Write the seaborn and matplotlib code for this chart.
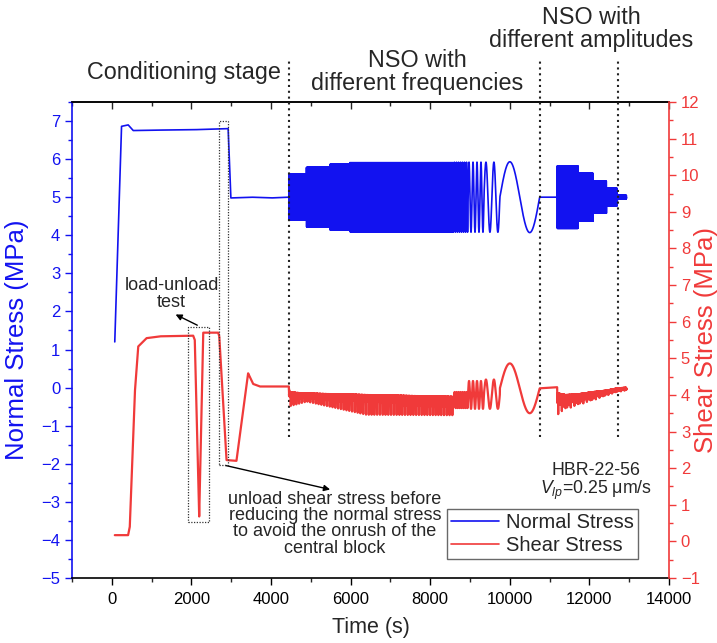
import numpy as np
import pandas as pd
import matplotlib
matplotlib.use("Agg")
import matplotlib.pyplot as plt
import seaborn as sns
from matplotlib.patches import Rectangle
from matplotlib.ticker import MultipleLocator

# ---------------- data ----------------
# Normal stress trend (MPa) outside the oscillation segments
normal_t = [75, 243, 410, 536, 1000, 2000, 2923, 2990, 3500, 4000, 4450, 12930]
normal_v = [1.2, 6.86, 6.90, 6.75, 6.76, 6.77, 6.80, 4.98, 5.00, 4.98, 5.00, 5.00]

# Normal stress oscillation segments (start, end, period, half-amplitude)
nso_start  = [4450, 4890, 5480, 5980, 8600, 8950, 9350, 9750, 11190, 11716, 12093, 12430, 12700]
nso_end    = [4890, 5480, 5980, 8600, 8950, 9350, 9750, 10750, 11716, 12093, 12430, 12700, 12930]
nso_period = [6, 7, 8, 9, 50, 100, 200, 1000, 8, 8, 8, 8, 8]
nso_amp    = [0.69, 0.80, 0.86, 0.92, 0.92, 0.92, 0.92, 0.93, 0.82, 0.63, 0.42, 0.23, 0.05]

# Shear stress trend (MPa)
shear_t = [75, 410, 452, 578, 662, 871, 1206, 2044, 2085, 2196, 2296, 2673, 2700,
           2881, 3132, 3425, 3550, 3718, 4450, 10750, 11190, 12930]
shear_v = [0.17, 0.17, 0.40, 4.05, 5.32, 5.55, 5.60, 5.62, 5.50, 0.68, 5.70, 5.70, 5.60,
           2.22, 2.20, 4.59, 4.30, 4.23, 4.23, 4.18, 4.21, 4.18]

# Shear response during the dense frequency block
band1_t     = [4450, 4465, 4900, 6400, 8600]
band1_top   = [4.20, 4.07, 4.04, 4.00, 3.95]
band1_low   = [4.00, 3.95, 3.92, 3.82, 3.72]
band1_spike = [3.60, 3.65, 3.80, 3.40, 3.40]

# Shear response during the slow NSO cycles (start, end, period, centre, half-amplitude)
slow_start  = [8600, 8950, 9350, 9750]
slow_end    = [8950, 9350, 9750, 10750]
slow_period = [50, 100, 200, 1000]
slow_center = [3.86, 4.00, 4.02, 4.18]
slow_amp    = [0.22, 0.38, 0.40, 0.68]

# Shear response during the amplitude block
band2_t     = [11190, 11400, 11716, 12093, 12430, 12700, 12930]
band2_top   = [4.05, 4.00, 4.02, 4.08, 4.12, 4.18, 4.20]
band2_low   = [3.78, 3.80, 3.86, 3.95, 4.04, 4.12, 4.15]
band2_spike = [3.45, 3.60, 3.72, 3.85, 3.98, 4.08, 4.12]

x_ticks = [0, 2000, 4000, 6000, 8000, 10000, 12000, 14000]
stage_lines = [4450, 10750, 12720]

# ---------------- build series ----------------
t = np.arange(75, 12931, 1.0)
normal = np.interp(t, normal_t, normal_v)
for s, e, P, A in zip(nso_start, nso_end, nso_period, nso_amp):
    m = (t >= s) & (t < e)
    normal[m] = normal[m] + A * np.sin(2 * np.pi * (t[m] - s) / P)

shear = np.interp(t, shear_t, shear_v)


def band(tt, bt, top, low, spike, pfast=7.0, pspike=70.0):
    tp = np.interp(tt, bt, top)
    lo = np.interp(tt, bt, low)
    sp = np.interp(tt, bt, spike)
    ph = 0.5 + 0.5 * np.sin(2 * np.pi * tt / pfast)
    pulse = np.clip(np.sin(2 * np.pi * tt / pspike), 0, None) ** 16
    return tp - (tp - lo) * ph - (lo - sp) * pulse


m = (t >= band1_t[0]) & (t < band1_t[-1])
shear[m] = band(t[m], band1_t, band1_top, band1_low, band1_spike)
for s, e, P, c, A in zip(slow_start, slow_end, slow_period, slow_center, slow_amp):
    m = (t >= s) & (t < e)
    shear[m] = c + A * np.sin(2 * np.pi * (t[m] - s) / P)
m = (t >= band2_t[0]) & (t <= band2_t[-1])
shear[m] = band(t[m], band2_t, band2_top, band2_low, band2_spike, pspike=45.0)

df = pd.DataFrame({"Time": t, "Normal": normal, "Shear": shear})

# ---------------- style ----------------
sns.set_style("ticks")
plt.rcParams["font.family"] = ["Liberation Sans", "DejaVu Sans"]
plt.rcParams["mathtext.fontset"] = "custom"
plt.rcParams["mathtext.rm"] = "Liberation Sans"
plt.rcParams["mathtext.it"] = "Liberation Sans:italic"

BLUE = "#1212f0"
RED = "#f03a3a"

fig = plt.figure(figsize=(7.17, 6.43), dpi=100)
ax = fig.add_axes([0.1004, 0.1011, 0.8327, 0.7403])
ax2 = ax.twinx()

sns.lineplot(data=df, x="Time", y="Normal", ax=ax, color=BLUE, lw=1.2,
             estimator=None, sort=False, label="Normal Stress", legend=False)
sns.lineplot(data=df, x="Time", y="Shear", ax=ax2, color=RED, lw=1.6,
             estimator=None, sort=False, label="Shear Stress", legend=False)

ax.set_xlim(-1000, 14000)
ax.set_ylim(-5, 7.5)
ax2.set_ylim(-1, 12)

ax.set_xticks(x_ticks)
ax.xaxis.set_minor_locator(MultipleLocator(1000))
ax.yaxis.set_major_locator(MultipleLocator(1))
ax.yaxis.set_minor_locator(MultipleLocator(0.5))
ax2.yaxis.set_major_locator(MultipleLocator(1))
ax2.yaxis.set_minor_locator(MultipleLocator(0.5))

ax.tick_params(axis="x", which="major", direction="out", length=5, width=1, labelsize=12, colors="black", pad=5)
ax.tick_params(axis="x", which="minor", direction="out", length=3, width=1)
ax.tick_params(axis="y", which="major", direction="out", length=5, width=1, labelsize=12, colors=BLUE)
ax.tick_params(axis="y", which="minor", direction="out", length=3, width=1, colors=BLUE)
ax2.tick_params(axis="y", which="major", direction="out", length=5, width=1, labelsize=12, colors=RED)
ax2.tick_params(axis="y", which="minor", direction="out", length=3, width=1, colors=RED)

top = ax.secondary_xaxis("top")
top.set_xticks(x_ticks)
top.xaxis.set_minor_locator(MultipleLocator(1000))
top.tick_params(which="major", direction="in", length=5, width=1, labeltop=False)
top.tick_params(which="minor", direction="in", length=3, width=1)
top.spines["top"].set_linewidth(1.2)

for sp in ["top", "bottom"]:
    ax.spines[sp].set_linewidth(1.2)
    ax.spines[sp].set_color("black")
ax.spines["left"].set_color(BLUE)
ax.spines["left"].set_linewidth(1.2)
ax.spines["right"].set_visible(False)
ax2.spines["left"].set_visible(False)
ax2.spines["top"].set_visible(False)
ax2.spines["bottom"].set_visible(False)
ax2.spines["right"].set_color(RED)
ax2.spines["right"].set_linewidth(1.2)

ax.set_xlabel("Time (s)", fontsize=15.5)
ax.xaxis.set_label_coords(0.5, -0.082)
ax.set_ylabel("Normal Stress (MPa)", fontsize=18.5, color=BLUE)
ax.yaxis.set_label_coords(-0.072, 0.5)
ax2.set_ylabel("Shear Stress (MPa)", fontsize=18.5, color=RED, rotation=90)
ax2.yaxis.set_label_coords(1.042, 0.5)

# stage separators
for x in stage_lines:
    ax.axvline(x, ymin=0.296, ymax=1.092, color="#222222", lw=1.5,
               ls=(0, (1.0, 1.8)), clip_on=False, zorder=5)

# stage titles
fig.text(184 / 717, 1 - 72 / 643, "Conditioning stage", fontsize=16.8, ha="center", va="center")
fig.text(417 / 717, 1 - 72 / 643, "NSO with\ndifferent frequencies", fontsize=16.8,
         ha="center", va="center", linespacing=1.0)
fig.text(591 / 717, 1 - 29 / 643, "NSO with\ndifferent amplitudes", fontsize=16.8,
         ha="center", va="center", linespacing=1.0)

# dotted boxes
ax2.add_patch(Rectangle((2688, 2.09), 227, 9.40, fill=False, ec="#333333", lw=0.9,
                        ls=(0, (1, 1.2)), zorder=6))
ax2.add_patch(Rectangle((1917, 0.54), 518, 5.31, fill=False, ec="#333333", lw=0.9,
                        ls=(0, (1, 1.2)), zorder=6))

# annotations
ax2.annotate("", xy=(1540, 6.23), xytext=(2211, 5.87),
             arrowprops=dict(arrowstyle="-|>", color="black", lw=1.0, mutation_scale=9))
ax2.text(1500, 6.76, "load-unload\ntest", fontsize=13, ha="center", va="center", linespacing=1.0)
ax2.annotate("", xy=(5553, 1.40), xytext=(2789, 2.09),
             arrowprops=dict(arrowstyle="-|>", color="black", lw=1.0, mutation_scale=9))
ax2.text(5603, 0.48, "unload shear stress before\nreducing the normal stress\nto avoid the onrush of the\ncentral block",
         fontsize=13, ha="center", va="center", linespacing=0.95)
ax2.text(14000 - 430, 1.62, "HBR-22-56\n$V_{lp}$=0.25 μm/s", fontsize=12.8, ha="right",
         va="center", multialignment="center", linespacing=1.0)

# legend
h1, l1 = ax.get_legend_handles_labels()
h2, l2 = ax2.get_legend_handles_labels()
leg = ax2.legend(h1 + h2, l1 + l2, loc="lower right", bbox_to_anchor=(0.948, 0.04),
                 borderaxespad=0, fontsize=14.5, frameon=True, fancybox=False,
                 handlelength=2.4, handletextpad=0.35, labelspacing=0.2,
                 borderpad=0.2)
leg.get_frame().set_edgecolor("#444444")
leg.get_frame().set_linewidth(1.0)
for ln in leg.get_lines():
    ln.set_linewidth(1.2)

fig.savefig("out.png", dpi=100)
